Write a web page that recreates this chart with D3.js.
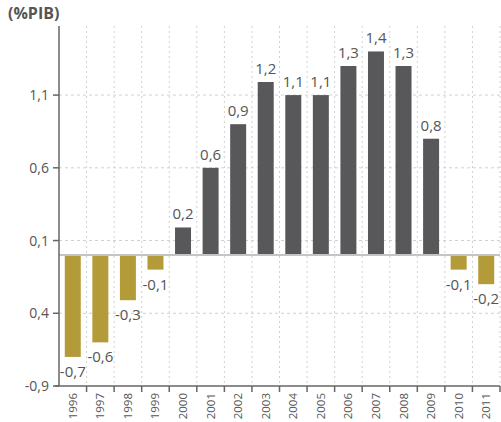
<!DOCTYPE html>
<html>
<head>
<meta charset="utf-8">
<script src="https://cdn.jsdelivr.net/npm/d3@7"></script>
<style>
  body { margin: 0; background: #fff; }
  text { font-family: "Open Sans", sans-serif; fill: #555; }
</style>
</head>
<body>
<div id="chart"></div>
<script>
// data
const years = ["1996","1997","1998","1999","2000","2001","2002","2003","2004","2005","2006","2007","2008","2009","2010","2011"];
const values = [-0.70, -0.60, -0.31, -0.10, 0.19, 0.60, 0.90, 1.19, 1.10, 1.10, 1.30, 1.40, 1.30, 0.80, -0.10, -0.20];
const valueLabels = ["-0,7","-0,6","-0,3","-0,1","0,2","0,6","0,9","1,2","1,1","1,1","1,3","1,4","1,3","0,8","-0,1","-0,2"];
const yTicks = [1.1, 0.6, 0.1, -0.4, -0.9];
const yTickLabels = ["1,1", "0,6", "0,1", "0,4", "-0,9"];

const width = 501, height = 422;
const margin = {top: 26, right: 1, bottom: 36, left: 59};

let svg = d3.select("#chart").append("svg")
    .attr("width", width)
    .attr("height", height);

let x = d3.scaleBand()
    .domain(years)
    .range([margin.left, width - margin.right])
    .paddingInner(0.42)
    .paddingOuter(0.21);

let y = d3.scaleLinear()
    .domain([-0.9, 1.575])
    .range([height - margin.bottom, margin.top]);

// band boundaries for the vertical grid and the x ticks
let step = x.step();
let bounds = years.map((d, i) => margin.left + step * (i + 1));

// vertical dotted grid
svg.append("g").selectAll("line")
    .data(bounds)
    .join("line")
    .attr("x1", d => d).attr("x2", d => d)
    .attr("y1", margin.top).attr("y2", height - margin.bottom)
    .attr("stroke", "#d0d0d0")
    .attr("stroke-dasharray", "2,3");

// horizontal dashed grid
svg.append("g").selectAll("line")
    .data(yTicks.slice(0, 4))
    .join("line")
    .attr("x1", margin.left).attr("x2", width - margin.right)
    .attr("y1", d => y(d)).attr("y2", d => y(d))
    .attr("stroke", "#d0d0d0")
    .attr("stroke-dasharray", "3,3");

// bars
svg.append("g").selectAll("rect")
    .data(values)
    .join("rect")
    .attr("x", (d, i) => x(years[i]))
    .attr("width", x.bandwidth())
    .attr("y", d => y(Math.max(0, d)))
    .attr("height", d => Math.abs(y(d) - y(0)))
    .attr("fill", d => d < 0 ? "#b49b3a" : "#58585a");

// zero line
svg.append("line")
    .attr("x1", margin.left).attr("x2", width - margin.right)
    .attr("y1", y(0)).attr("y2", y(0))
    .attr("stroke", "#c4c4c4")
    .attr("stroke-width", 2);

// value labels
svg.append("g").selectAll("text")
    .data(values)
    .join("text")
    .attr("x", (d, i) => x(years[i]) + x.bandwidth() / 2)
    .attr("y", d => d < 0 ? y(d) + 20 : y(d) - 8)
    .attr("text-anchor", "middle")
    .attr("font-size", 15)
    .text((d, i) => valueLabels[i]);

// y axis
let yAxis = svg.append("g");
yAxis.append("line")
    .attr("x1", margin.left).attr("x2", margin.left)
    .attr("y1", margin.top).attr("y2", height - margin.bottom)
    .attr("stroke", "#666").attr("stroke-width", 1.5);
yAxis.selectAll(".tick")
    .data(yTicks)
    .join("line")
    .attr("x1", margin.left - 6).attr("x2", margin.left)
    .attr("y1", d => y(d)).attr("y2", d => y(d))
    .attr("stroke", "#666").attr("stroke-width", 1.5);
yAxis.selectAll("text")
    .data(yTicks)
    .join("text")
    .attr("x", margin.left - 10)
    .attr("y", d => y(d) + 5)
    .attr("text-anchor", "end")
    .attr("font-size", 14)
    .text((d, i) => yTickLabels[i]);

// x axis
let xAxis = svg.append("g");
xAxis.append("line")
    .attr("x1", margin.left - 4).attr("x2", width - margin.right)
    .attr("y1", y(-0.9)).attr("y2", y(-0.9))
    .attr("stroke", "#666").attr("stroke-width", 1.5);
xAxis.selectAll(".tick")
    .data(bounds)
    .join("line")
    .attr("x1", d => d).attr("x2", d => d)
    .attr("y1", y(-0.9)).attr("y2", y(-0.9) + 6)
    .attr("stroke", "#666").attr("stroke-width", 1.5);
xAxis.selectAll("text")
    .data(years)
    .join("text")
    .attr("transform", d => `translate(${x(d) + x.bandwidth() / 2 + 4}, ${y(-0.9) + 7}) rotate(-90)`)
    .attr("text-anchor", "end")
    .attr("font-size", 11.5)
    .text(d => d);

// unit title
svg.append("text")
    .attr("x", 8)
    .attr("y", 19)
    .attr("font-size", 16)
    .attr("font-weight", "bold")
    .text("(%PIB)");
</script>
</body>
</html>
